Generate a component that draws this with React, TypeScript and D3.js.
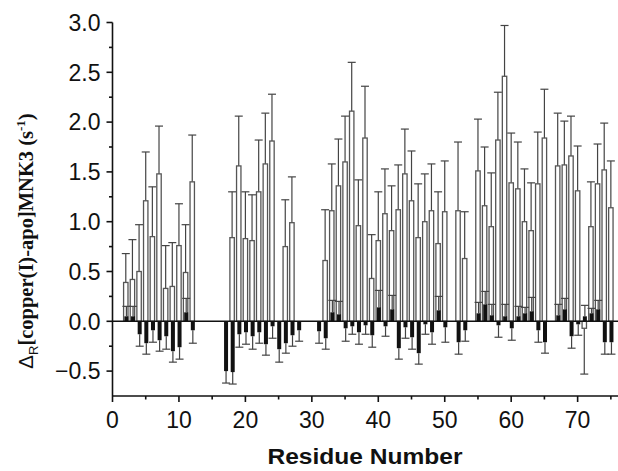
import React, { useEffect, useRef } from "react";
import * as d3 from "d3";

// residue numbers that carry data
const residues = [
  2, 3, 4, 5, 6, 7, 8, 9, 10, 11, 12,
  17, 18, 19, 20, 21, 22, 23, 24, 25, 26, 27, 28,
  31, 32, 33, 34, 35, 36, 37, 38, 39, 40, 41, 42, 43, 44, 45, 46, 47, 48, 49, 50,
  52, 53,
  55, 56, 57, 58, 59, 60, 61, 62, 63, 64, 65,
  67, 68, 69, 70, 71, 72, 73, 74, 75,
];

// open bars
const openValues = [
  0.39, 0.42, 0.5, 1.21, 0.85, 1.48, 0.33, 0.35, 0.76, 0.49, 1.4,
  null, 0.84, 1.56, 0.83, 0.81, 1.3, 1.58, 1.81, null, 0.75, 0.99, null,
  null, 0.61, 1.11, 1.36, 1.6, 2.11, 0.96, 1.84, 0.43, 0.81, 1.08, 0.91, 1.12, 1.48, 1.21, 0.84, 1.0, 1.11, 0.78, 1.1,
  1.11, 0.63,
  1.51, 1.16, 0.95, 1.82, 2.46, 1.39, 1.33, 1.0, 0.91, 1.38, 1.84,
  1.56, 1.57, 1.66, 1.31, -0.07, 0.95, 1.38, 1.52, 1.14,
];
const openErrors = [
  0.29, 0.4, 0.47, 0.49, 0.5, 0.48, 0.43, 0.44, 0.42, 0.48, 0.47,
  null, 0.46, 0.5, 0.47, 0.46, 0.52, 0.51, 0.47, null, 0.47, 0.46, null,
  null, 0.51, 0.47, 0.47, 0.46, 0.49, 0.46, 0.52, 0.44, 0.49, 0.45, 0.45, 0.45, 0.45, 0.5, 0.54, 0.48, 0.47, 0.52, 0.51,
  0.69, 0.47,
  0.52, 0.59, 0.54, 0.48, 0.51, 0.5, 0.47, 0.53, 0.48, 0.52, 0.49,
  0.53, 0.44, 0.4, 0.45, 0.46, 0.45, 0.4, 0.47, 0.47,
];

// filled bars
const filledValues = [
  0.05, 0.05, -0.13, -0.22, -0.09, -0.19, -0.15, -0.3, -0.26, 0.09, -0.09,
  -0.5, -0.51, -0.13, -0.11, -0.15, -0.11, -0.23, -0.05, -0.28, -0.22, -0.14, -0.09,
  -0.1, -0.17, 0.09, 0.07, -0.07, -0.05, -0.11, -0.04, -0.14, 0.14, -0.05, 0.12, -0.27, -0.06, -0.16, -0.32, -0.03, -0.11, 0.11, -0.06,
  -0.21, -0.09,
  0.08, 0.17, 0.06, -0.04, 0.05, -0.07, 0.05, 0.08, 0.1, -0.09, -0.21,
  0.06, 0.12, -0.15, -0.03, 0.05, 0.08, 0.12, -0.21, -0.21,
];
const filledErrors = [
  0.1, 0.1, 0.12, 0.11, 0.12, 0.11, 0.13, 0.11, 0.12, 0.14, 0.13,
  0.12, 0.12, 0.13, 0.12, 0.13, 0.11, 0.11, 0.12, 0.13, 0.1, 0.11, 0.11,
  0.12, 0.11, 0.12, 0.13, 0.13, 0.08, 0.12, 0.09, 0.12, 0.17, 0.1, 0.14, 0.11, 0.11, 0.12, 0.11, 0.1, 0.12, 0.14, 0.15,
  0.12, 0.11,
  0.11, 0.13, 0.11, 0.12, 0.12, 0.12, 0.1, 0.06, 0.14, 0.12, 0.11,
  0.11, 0.11, 0.12, 0.11, 0.11, 0.05, 0.09, 0.12, 0.12,
];

const xMajorTicks = [0, 10, 20, 30, 40, 50, 60, 70];
const xMinorTicks = [5, 15, 25, 35, 45, 55, 65, 75];
const yMajorTicks = [-0.5, 0.0, 0.5, 1.0, 1.5, 2.0, 2.5, 3.0];
const yMinorTicks = [-0.25, 0.25, 0.75, 1.25, 1.75, 2.25, 2.75];

const W = 618;
const H = 471;

const App = () => {
  const svgRef = useRef(null);

  useEffect(() => {
    const x = d3.scaleLinear().domain([0, 76]).range([112.5, 617.5]);
    const y = d3.scaleLinear().domain([-0.75, 3.0]).range([396, 22.5]);

    const svg = d3.select(svgRef.current);
    svg.selectAll("*").remove();

    const rows = residues.map((r, i) => ({
      r,
      ov: openValues[i],
      oe: openErrors[i],
      fv: filledValues[i],
      fe: filledErrors[i],
    }));
    const open = rows.filter((d) => d.ov !== null);

    const barW = 4.4;
    const capW = 8;

    const drawErr = (g, data, getV, getE, dx) => {
      const sel = g.selectAll("g").data(data).enter().append("g");
      sel
        .append("line")
        .attr("x1", (d) => x(d.r) + dx)
        .attr("x2", (d) => x(d.r) + dx)
        .attr("y1", (d) => y(getV(d)))
        .attr("y2", (d) => y(getV(d) + Math.sign(getV(d)) * getE(d)));
      sel
        .append("line")
        .attr("x1", (d) => x(d.r) + dx - capW / 2)
        .attr("x2", (d) => x(d.r) + dx + capW / 2)
        .attr("y1", (d) => y(getV(d) + Math.sign(getV(d)) * getE(d)))
        .attr("y2", (d) => y(getV(d) + Math.sign(getV(d)) * getE(d)));
    };

    // open bars + errors
    const gOpenErr = svg.append("g").attr("stroke", "#444").attr("stroke-width", 1.2);
    drawErr(gOpenErr, open, (d) => d.ov, (d) => d.oe, 0);

    svg
      .append("g")
      .selectAll("rect")
      .data(open)
      .enter()
      .append("rect")
      .attr("x", (d) => x(d.r) - barW / 2)
      .attr("y", (d) => Math.min(y(d.ov), y(0)))
      .attr("width", barW)
      .attr("height", (d) => Math.abs(y(d.ov) - y(0)))
      .attr("fill", "#fff")
      .attr("stroke", "#555")
      .attr("stroke-width", 1.3);

    // filled bars + errors
    const gFillErr = svg.append("g").attr("stroke", "#444").attr("stroke-width", 1.2);
    drawErr(gFillErr, rows, (d) => d.fv, (d) => d.fe, 0.6);

    svg
      .append("g")
      .selectAll("rect")
      .data(rows)
      .enter()
      .append("rect")
      .attr("x", (d) => x(d.r) + 0.6 - 2)
      .attr("y", (d) => Math.min(y(d.fv), y(0)))
      .attr("width", 4)
      .attr("height", (d) => Math.abs(y(d.fv) - y(0)))
      .attr("fill", "#111");

    // zero line
    svg
      .append("line")
      .attr("x1", x(0))
      .attr("x2", W)
      .attr("y1", y(0))
      .attr("y2", y(0))
      .attr("stroke", "#111")
      .attr("stroke-width", 1.6);

    // axes
    const axes = svg.append("g").attr("stroke", "#111").attr("stroke-width", 1.6);
    axes.append("line").attr("x1", x(0)).attr("x2", x(0)).attr("y1", y(3.0)).attr("y2", y(-0.75));
    axes.append("line").attr("x1", x(0)).attr("x2", W).attr("y1", y(-0.75)).attr("y2", y(-0.75));

    yMajorTicks.forEach((t) =>
      axes.append("line").attr("x1", x(0) - 6).attr("x2", x(0)).attr("y1", y(t)).attr("y2", y(t))
    );
    yMinorTicks.forEach((t) =>
      axes.append("line").attr("x1", x(0) - 3.5).attr("x2", x(0)).attr("y1", y(t)).attr("y2", y(t))
    );
    xMajorTicks.forEach((t) =>
      axes.append("line").attr("x1", x(t)).attr("x2", x(t)).attr("y1", y(-0.75)).attr("y2", y(-0.75) + 6)
    );
    xMinorTicks.forEach((t) =>
      axes.append("line").attr("x1", x(t)).attr("x2", x(t)).attr("y1", y(-0.75)).attr("y2", y(-0.75) + 3.5)
    );

    const font = "Liberation Sans, Arial, Helvetica, sans-serif";

    svg
      .append("g")
      .selectAll("text")
      .data(yMajorTicks)
      .enter()
      .append("text")
      .attr("x", x(0) - 12)
      .attr("y", (d) => y(d))
      .attr("dy", "0.36em")
      .attr("text-anchor", "end")
      .attr("font-family", font)
      .attr("font-size", 23)
      .attr("fill", "#111")
      .text((d) => d3.format(".1f")(d));

    svg
      .append("g")
      .selectAll("text")
      .data(xMajorTicks)
      .enter()
      .append("text")
      .attr("x", (d) => x(d))
      .attr("y", 428)
      .attr("text-anchor", "middle")
      .attr("font-family", font)
      .attr("font-size", 23)
      .attr("fill", "#111")
      .text((d) => d);

    svg
      .append("text")
      .attr("x", 365)
      .attr("y", 464)
      .attr("text-anchor", "middle")
      .attr("font-family", font)
      .attr("font-weight", "bold")
      .attr("font-size", 22)
      .attr("textLength", 195)
      .attr("lengthAdjust", "spacingAndGlyphs")
      .attr("fill", "#111")
      .text("Residue Number");

    // y title with sub/superscripts
    const yt = svg
      .append("text")
      .attr("transform", "translate(33,241) rotate(-90)")
      .attr("text-anchor", "middle")
      .attr("font-family", "Liberation Serif, Times New Roman, serif")
      .attr("font-weight", "bold")
      .attr("font-size", 20.5)
      .attr("fill", "#111");
    yt.append("tspan").attr("font-family", font).attr("font-weight", "normal").text("Δ");
    yt.append("tspan").attr("font-family", font).attr("font-weight", "normal").attr("font-size", 13).attr("dy", 5).text("R");
    yt.append("tspan").attr("dy", -5).text("[copper(I)-apo]MNK3 (s");
    yt.append("tspan").attr("font-size", 13).attr("dy", -8).text("-1");
    yt.append("tspan").attr("dy", 8).text(")");
  }, []);

  return (
    <svg
      ref={svgRef}
      width={W}
      height={H}
      style={{ position: "absolute", left: 0, top: 0, background: "#fff" }}
    ></svg>
  );
};

export default App;
